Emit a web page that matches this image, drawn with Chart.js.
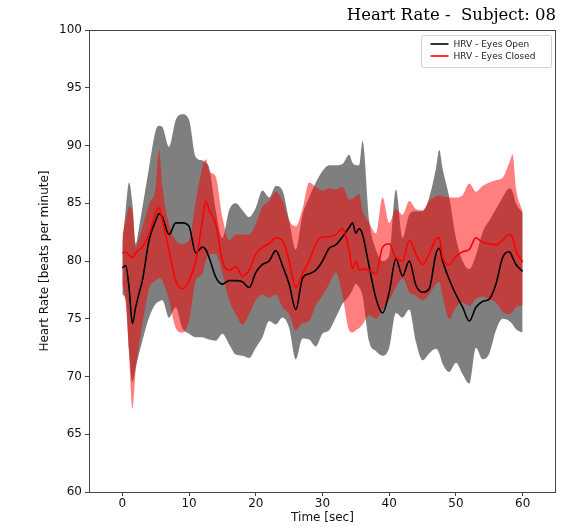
<!DOCTYPE html>
<html>
<head>
<meta charset="utf-8">
<script src="https://cdn.jsdelivr.net/npm/chart.js@4/dist/chart.umd.min.js"></script>
<style>
html,body{margin:0;padding:0;background:#fff;}
#wrap{width:580px;height:527px;}
</style>
</head>
<body>
<div id="wrap"><canvas id="c" width="580" height="527"></canvas></div>
<script>
// ---- data ----
const time = [0,0.5,1,1.5,2,2.5,3,4,5,5.5,6,7,8,9,10,11,12,12.5,13,14,15,16,17,18,19,20,21,22,23,24,25,26,27,28,29,30,31,32,33,34,34.5,35,35.5,36,37,38,39,40,41,42,43,44,45,46,47,47.5,48,49,50,51,52,53,54,55,56,57,58,58.5,59,60];

const openMean = [79.4,79.6,77.7,74.6,76.0,77.2,78.3,81.8,83.5,84.1,83.8,82.3,83.3,83.3,83.0,80.7,81.2,81.0,80.3,78.6,78.0,78.3,78.3,78.2,77.7,79.0,79.7,80.0,80.9,79.6,78.0,75.8,78.5,78.9,79.2,80.0,81.1,81.4,82.1,82.9,83.3,82.4,82.8,82.3,79.5,76.8,75.5,77.3,80.2,78.7,80.0,77.9,77.3,77.6,80.6,81.1,80.0,78.4,77.1,76.0,74.8,76.0,76.5,76.7,78.0,80.3,80.8,80.3,79.7,79.1];
const openUpper = [81.5,84.4,86.8,85.0,81.5,82.9,84.6,88.1,91.3,91.7,91.6,89.9,92.2,92.7,92.2,89.0,88.7,88.5,88.1,84.4,82.0,84.4,85.0,84.4,83.8,84.6,86.1,85.5,86.5,86.1,83.5,81.0,84.0,85.5,86.8,87.8,88.3,88.3,88.4,89.2,88.5,88.3,88.3,90.4,83.5,81.0,80.0,80.5,86.2,82.0,84.0,84.3,84.3,85.5,88.0,89.6,88.0,85.5,82.0,80.0,79.3,80.5,82.5,83.5,84.5,85.5,86.3,86.0,85.0,84.2];
const openLower = [77.1,76.6,72.2,69.5,70.8,72.0,73.1,75.1,76.3,76.5,76.6,75.1,76.0,74.2,73.7,73.4,73.4,73.3,73.2,73.1,73.7,72.8,71.9,71.8,71.6,72.5,73.4,74.8,74.5,75.1,74.2,71.5,73.3,73.2,72.6,73.7,74.0,75.1,76.3,77.0,77.5,78.0,77.7,77.0,73.0,72.2,71.8,72.5,75.5,75.1,75.8,73.0,71.4,72.0,72.4,72.0,71.1,70.4,71.2,70.2,69.4,72.5,71.5,72.0,74.0,75.0,74.8,74.5,74.1,73.8];

const closedMean = [80.7,80.8,80.5,80.3,80.7,81.0,81.2,82.3,84.2,84.6,83.5,80.9,78.3,77.6,78.3,80.0,83.5,85.2,84.4,83.2,80.0,79.2,79.5,78.7,79.2,80.6,81.2,81.5,82.0,81.8,80.0,77.7,78.9,80.0,81.5,82.1,82.1,82.3,82.8,80.9,79.3,80.0,79.2,79.3,79.2,78.9,81.2,81.5,80.3,80.0,81.8,80.6,79.7,80.6,81.9,82.0,80.3,79.7,80.4,80.8,81.0,82.0,81.6,81.5,81.4,81.8,82.3,82.0,80.9,79.9];
const closedUpper = [82.3,83.5,84.7,84.4,81.2,82.0,82.9,84.9,86.4,89.6,86.4,83.2,81.8,81.5,81.8,85.2,88.1,88.8,87.8,87.3,83.8,81.8,82.3,82.3,82.3,83.2,84.7,85.2,86.0,85.2,83.5,83.0,84.5,86.8,86.4,86.1,86.3,86.2,86.4,85.3,85.4,85.6,85.8,84.4,83.3,82.4,85.5,83.3,84.5,84.0,85.2,84.5,84.4,85.2,85.6,85.7,85.6,85.5,85.5,85.7,86.7,86.0,86.5,86.8,87.0,87.2,88.5,89.2,86.3,84.3];
const closedLower = [78.0,76.5,72.0,67.2,70.5,72.8,74.5,77.6,78.3,78.5,78.3,76.6,74.2,73.8,74.8,78.3,78.9,80.0,80.6,80.6,78.9,76.6,75.4,74.5,75.4,76.6,77.1,76.8,77.1,76.0,75.4,74.0,74.6,74.8,76.2,77.0,78.0,79.0,77.0,74.0,73.8,74.0,74.2,74.5,75.3,75.0,75.8,76.6,77.7,78.5,77.3,77.0,76.6,77.1,78.0,78.2,77.0,75.0,76.0,76.4,76.1,76.7,76.9,76.7,76.4,75.6,75.4,75.6,76.0,76.2];

const seriesLabels = ['HRV - Eyes Open', 'HRV - Eyes Closed'];
const xTicks = [0,10,20,30,40,50,60];
const yTicks = [60,65,70,75,80,85,90,95,100];
const titleText = 'Heart Rate -  Subject: 08';

// ---- build ----
const pts = arr => arr.map((v, i) => ({x: time[i], y: v}));
const common = {pointRadius: 0, pointHoverRadius: 0, cubicInterpolationMode: 'monotone'};

const datasets = [
  Object.assign({label: 'open_hi', data: pts(openUpper), borderWidth: 0, borderColor: 'rgba(0,0,0,0)', backgroundColor: 'rgba(0,0,0,0.5)', fill: '+1', order: 4}, common),
  Object.assign({label: 'open_lo', data: pts(openLower), borderWidth: 0, borderColor: 'rgba(0,0,0,0)', fill: false, order: 4}, common),
  Object.assign({label: 'closed_hi', data: pts(closedUpper), borderWidth: 0, borderColor: 'rgba(0,0,0,0)', backgroundColor: 'rgba(255,0,0,0.5)', fill: '+1', order: 3}, common),
  Object.assign({label: 'closed_lo', data: pts(closedLower), borderWidth: 0, borderColor: 'rgba(0,0,0,0)', fill: false, order: 3}, common),
  Object.assign({label: seriesLabels[0], data: pts(openMean), borderWidth: 1.6, borderColor: '#000000', fill: false, order: 2, legendEntry: true}, common),
  Object.assign({label: seriesLabels[1], data: pts(closedMean), borderWidth: 1.6, borderColor: '#ff0000', fill: false, order: 1, legendEntry: true}, common)
];

const framePlugin = {
  id: 'frame',
  afterDatasetsDraw(chart) {
    const {ctx, chartArea: a} = chart;
    ctx.save();
    ctx.strokeStyle = '#444';
    ctx.lineWidth = 1;
    ctx.strokeRect(Math.round(a.left) + 0.5, Math.round(a.top) + 0.5, Math.round(a.right - a.left) - 1, Math.round(a.bottom - a.top));
    ctx.restore();
  }
};

const legendPlugin = {
  id: 'boxLegend',
  afterDraw(chart) {
    const {ctx, chartArea: a} = chart;
    const entries = chart.data.datasets.filter(d => d.legendEntry);
    const x1 = a.right - 4.5, x0 = x1 - 130, y0 = a.top + 5.5, h = 32;
    ctx.save();
    const r = 2;
    ctx.beginPath();
    ctx.moveTo(x0 + r, y0);
    ctx.lineTo(x1 - r, y0); ctx.quadraticCurveTo(x1, y0, x1, y0 + r);
    ctx.lineTo(x1, y0 + h - r); ctx.quadraticCurveTo(x1, y0 + h, x1 - r, y0 + h);
    ctx.lineTo(x0 + r, y0 + h); ctx.quadraticCurveTo(x0, y0 + h, x0, y0 + h - r);
    ctx.lineTo(x0, y0 + r); ctx.quadraticCurveTo(x0, y0, x0 + r, y0);
    ctx.closePath();
    ctx.fillStyle = 'rgba(255,255,255,0.85)';
    ctx.fill();
    ctx.strokeStyle = '#d0d0d0';
    ctx.lineWidth = 1;
    ctx.stroke();
    ctx.font = '9px "DejaVu Sans"';
    ctx.textBaseline = 'middle';
    entries.forEach((d, i) => {
      const y = y0 + 8.5 + i * 12;
      ctx.beginPath();
      ctx.moveTo(x0 + 9, y); ctx.lineTo(x0 + 27, y);
      ctx.strokeStyle = d.borderColor; ctx.lineWidth = 1.6;
      ctx.stroke();
      ctx.fillStyle = '#222';
      ctx.fillText(d.label, x0 + 32, y + 0.5);
    });
    ctx.restore();
  }
};

new Chart(document.getElementById('c'), {
  type: 'line',
  data: {datasets},
  plugins: [framePlugin, legendPlugin],
  options: {
    responsive: false,
    devicePixelRatio: 1,
    animation: false,
    events: [],
    layout: {padding: {top: 0, left: 0, right: 24, bottom: 0}},
    plugins: {
      legend: {display: false},
      tooltip: {enabled: false},
      title: {
        display: true,
        text: titleText,
        align: 'end',
        color: '#000',
        font: {family: '"DejaVu Serif"', size: 16.5, weight: 'normal', lineHeight: 1.2},
        padding: {top: 6, bottom: 4.2}
      }
    },
    scales: {
      x: {
        type: 'linear',
        min: -5, max: 65,
        afterBuildTicks: s => { s.ticks = xTicks.map(v => ({value: v})); },
        afterFit: s => { s.height = 35; },
        grid: {display: true, drawOnChartArea: false, drawTicks: true, tickLength: 4, color: '#444'},
        border: {display: false},
        ticks: {color: '#111', font: {family: '"DejaVu Sans"', size: 12}, padding: 1, maxRotation: 0},
        title: {display: true, text: 'Time [sec]', color: '#111', font: {family: '"DejaVu Sans"', size: 12}, padding: {top: 0, bottom: 2}}
      },
      y: {
        type: 'linear',
        min: 60, max: 100,
        afterBuildTicks: s => { s.ticks = yTicks.map(v => ({value: v})); },
        afterFit: s => { s.width = 89; },
        grid: {display: true, drawOnChartArea: false, drawTicks: true, tickLength: 4, color: '#444'},
        border: {display: false},
        ticks: {color: '#111', font: {family: '"DejaVu Sans"', size: 12}, padding: 3},
        title: {display: true, text: 'Heart Rate [beats per minute]', color: '#111', font: {family: '"DejaVu Sans"', size: 12}, padding: {top: 38, bottom: 0}}
      }
    }
  }
});
</script>
</body>
</html>
